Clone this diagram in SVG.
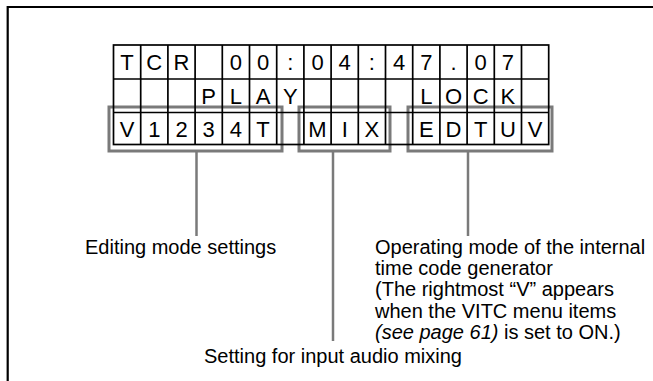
<svg xmlns="http://www.w3.org/2000/svg" width="653" height="381" viewBox="0 0 653 381">
<style>
.frame{stroke:#000;stroke-width:2.2;fill:none}
.ch{font-family:"Liberation Sans",Arial,sans-serif;font-size:22px;fill:#000;text-anchor:middle}
.br{fill:none;stroke:#7a7a7a;stroke-width:3}
.con{stroke:#7a7a7a;stroke-width:2.5;fill:none}
.lbl{font-family:"Liberation Sans",Arial,sans-serif;font-size:20px;fill:#000}
</style>
<rect width="653" height="381" fill="#fff"/>
<path class="frame" d="M7.7,381 V7 H653"/>
<g id="brackets">
<rect class="br" x="109" y="107" width="173" height="44"/>
<rect class="br" x="299" y="107" width="91" height="44"/>
<rect class="br" x="408" y="107" width="144" height="44"/>
</g>
<g id="display">
<g fill="none" stroke="#000" stroke-width="1.7">
<rect x="113.5" y="45" width="435.2" height="99.5"/>
<path d="M113.5,79H548.7M113.5,112.5H548.7"/>
<path d="M140.7,45V144.5M167.9,45V144.5M195.1,45V144.5M222.3,45V144.5M249.5,45V144.5M276.7,45V144.5M303.9,45V144.5M331.1,45V144.5M358.3,45V144.5M385.5,45V144.5M412.7,45V144.5M439.9,45V144.5M467.1,45V144.5M494.3,45V144.5M521.5,45V144.5"/>
</g>
<g class="ch">
<text x="127.1" y="70">T</text><text x="154.3" y="70">C</text><text x="181.5" y="70">R</text>
<text x="235.9" y="70">0</text><text x="263.1" y="70">0</text><text x="290.3" y="70">:</text>
<text x="317.5" y="70">0</text><text x="344.7" y="70">4</text><text x="371.9" y="70">:</text>
<text x="399.1" y="70">4</text><text x="426.3" y="70">7</text><text x="453.5" y="70">.</text>
<text x="480.7" y="70">0</text><text x="507.9" y="70">7</text>
<text x="208.7" y="103.5">P</text><text x="235.9" y="103.5">L</text><text x="263.1" y="103.5">A</text><text x="290.3" y="103.5">Y</text>
<text x="426.3" y="103.5">L</text><text x="453.5" y="103.5">O</text><text x="480.7" y="103.5">C</text><text x="507.9" y="103.5">K</text>
<text x="127.1" y="136.5">V</text><text x="154.3" y="136.5">1</text><text x="181.5" y="136.5">2</text><text x="208.7" y="136.5">3</text><text x="235.9" y="136.5">4</text><text x="263.1" y="136.5">T</text>
<text x="317.5" y="136.5">M</text><text x="344.7" y="136.5">I</text><text x="371.9" y="136.5">X</text>
<text x="426.3" y="136.5">E</text><text x="453.5" y="136.5">D</text><text x="480.7" y="136.5">T</text><text x="507.9" y="136.5">U</text><text x="535.1" y="136.5">V</text>
</g>
</g>
<g id="connectors">
<path class="con" d="M196.5,151V236"/>
<path class="con" d="M333,151V341"/>
<path class="con" d="M468,151V236"/>
</g>
<g id="label-editing">
<text class="lbl" x="85" y="254">Editing mode settings</text>
</g>
<g id="label-operating">
<text class="lbl" x="375" y="254">Operating mode of the internal</text>
<text class="lbl" x="375" y="275.2">time code generator</text>
<text class="lbl" x="375" y="296.4">(The rightmost “V” appears</text>
<text class="lbl" x="375" y="317.6">when the VITC menu items</text>
<text class="lbl" x="375" y="338.8"><tspan font-style="italic">(see page 61)</tspan> is set to ON.)</text>
</g>
<g id="label-mixing">
<text class="lbl" x="333" y="362.5" text-anchor="middle">Setting for input audio mixing</text>
</g>
</svg>
